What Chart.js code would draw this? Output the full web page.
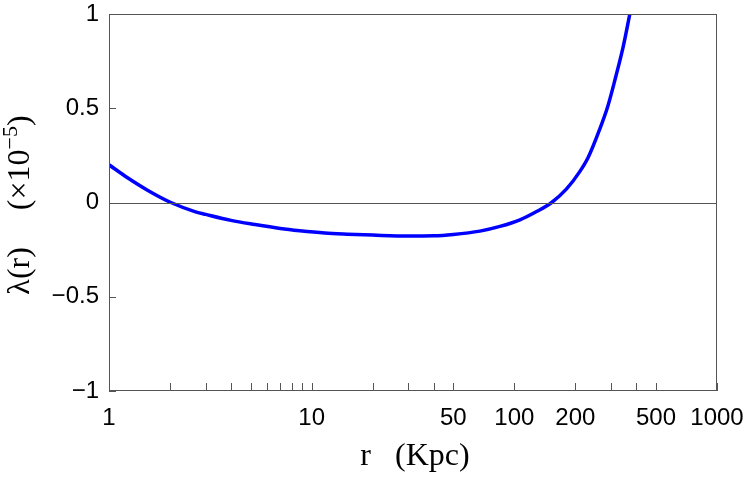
<!DOCTYPE html>
<html>
<head>
<meta charset="utf-8">
<script src="https://cdn.jsdelivr.net/npm/chart.js@4"></script>
<style>
  html, body { margin: 0; padding: 0; background: #fff; }
  #wrap { width: 747px; height: 477px; }
</style>
</head>
<body>
<div id="wrap"><canvas id="lambdaChart" width="747" height="477"></canvas></div>
<script>
// curve: r in Kpc, lambda in units of 1e-5
const rValues = [1, 1.24, 1.556, 2.02, 2.65, 3, 4, 5.24, 7, 8.73, 11.6, 15, 20, 30, 40, 50, 67.6, 84.9, 106.6, 128.8, 152.8, 181, 210.7, 231.6, 263, 290, 317, 345, 371.5];
const lambdaValues = [0.2, 0.13, 0.064, 0, -0.048, -0.063, -0.095, -0.117, -0.138, -0.15, -0.162, -0.168, -0.173, -0.178, -0.177, -0.17, -0.152, -0.127, -0.092, -0.048, 0, 0.072, 0.165, 0.24, 0.385, 0.515, 0.67, 0.83, 1.0];

// axis ticks
const xMajorTicks = [1, 10, 50, 100, 200, 500, 1000];
const xMinorTicks = [2, 3, 4, 5, 6, 7, 8, 9, 20, 30, 40, 300, 400];
const yTicks = [-1, -0.5, 0, 0.5, 1];
const yTickLabels = ['\u22121', '\u22120.5', '0', '0.5', '1'];

const frameColor = '#555555';
const serif = 'Liberation Serif, "Times New Roman", serif';

// frame, zero line and inward tick marks
const framePlugin = {
    id: 'framePlugin',
    afterDatasetsDraw(chart) {
        const ctx = chart.ctx;
        const area = chart.chartArea;
        const xs = chart.scales.x;
        const ys = chart.scales.y;
        ctx.save();
        ctx.strokeStyle = frameColor;
        ctx.lineWidth = 1;
        ctx.strokeRect(Math.round(area.left) + 0.5, Math.round(area.top) + 0.5,
            Math.round(area.right - area.left) - 1, Math.round(area.bottom - area.top) - 1);

        // zero line
        const y0 = Math.round(ys.getPixelForValue(0)) + 0.5;
        ctx.beginPath();
        ctx.moveTo(area.left, y0);
        ctx.lineTo(area.right, y0);
        ctx.stroke();

        // x ticks, bottom only, pointing up
        ctx.beginPath();
        xMajorTicks.concat(xMinorTicks).forEach(v => {
            const px = Math.round(xs.getPixelForValue(v)) + 0.5;
            ctx.moveTo(px, area.bottom);
            ctx.lineTo(px, area.bottom - 8);
        });
        // y ticks, left only, pointing right
        yTicks.forEach(v => {
            const py = Math.round(ys.getPixelForValue(v)) + 0.5;
            ctx.moveTo(area.left, py);
            ctx.lineTo(area.left + 7, py);
        });
        ctx.stroke();
        ctx.restore();
    }
};

// axis titles, y one has a raised exponent
const titlePlugin = {
    id: 'titlePlugin',
    afterDraw(chart) {
        const ctx = chart.ctx;
        const area = chart.chartArea;
        ctx.save();
        ctx.fillStyle = '#000';
        ctx.textBaseline = 'alphabetic';

        // x title
        ctx.font = '32px ' + serif;
        ctx.textAlign = 'center';
        ctx.fillText('r   (Kpc)', (area.left + area.right) / 2 + 2, 465);

        // y title, rotated
        const big = '32px ' + serif;
        const small = '22px ' + serif;
        const parts = [
            { t: '\u03bb(r)', f: big, dy: 0 },
            { gap: 37 },
            { t: '(\u00d710', f: big, dy: 0 },
            { t: '\u22125', f: small, dy: -12 },
            { t: ')', f: big, dy: 0 }
        ];
        let total = 0;
        parts.forEach(p => {
            if (p.gap) { p.w = p.gap; } else { ctx.font = p.f; p.w = ctx.measureText(p.t).width; }
            total += p.w;
        });
        ctx.translate(29, 205);
        ctx.rotate(-Math.PI / 2);
        ctx.textAlign = 'left';
        let pos = -total / 2;
        parts.forEach(p => {
            if (!p.gap) {
                ctx.font = p.f;
                ctx.fillText(p.t, pos, p.dy);
            }
            pos += p.w;
        });
        ctx.restore();
    }
};

const ctx = document.getElementById('lambdaChart').getContext('2d');
new Chart(ctx, {
    type: 'line',
    data: {
        datasets: [{
            data: rValues.map((r, i) => ({ x: r, y: lambdaValues[i] })),
            borderColor: '#0000ff',
            borderWidth: 3.5,
            pointRadius: 0,
            cubicInterpolationMode: 'monotone',
            fill: false
        }]
    },
    options: {
        responsive: false,
        animation: false,
        layout: { padding: { top: 14, right: 30, left: 0, bottom: 0 } },
        plugins: {
            legend: { display: false },
            tooltip: { enabled: false }
        },
        scales: {
            x: {
                type: 'logarithmic',
                min: 1,
                max: 1000,
                afterBuildTicks(scale) {
                    scale.ticks = xMajorTicks.map(v => ({ value: v }));
                },
                afterFit(scale) {
                    scale.height = 86;
                    scale.paddingLeft = 0;
                    scale.paddingRight = 0;
                },
                grid: { display: false },
                border: { display: false },
                ticks: {
                    autoSkip: false,
                    maxRotation: 0,
                    padding: 5,
                    color: '#000',
                    font: { family: 'Liberation Sans, Arial, sans-serif', size: 24 },
                    callback: (v) => String(v)
                }
            },
            y: {
                type: 'linear',
                min: -1,
                max: 1,
                afterBuildTicks(scale) {
                    scale.ticks = yTicks.map(v => ({ value: v }));
                },
                afterFit(scale) {
                    scale.width = 109;
                    scale.paddingTop = 0;
                    scale.paddingBottom = 0;
                },
                grid: { display: false },
                border: { display: false },
                ticks: {
                    autoSkip: false,
                    padding: 2,
                    color: '#000',
                    font: { family: 'Liberation Sans, Arial, sans-serif', size: 24 },
                    callback: (v) => yTickLabels[yTicks.indexOf(v)]
                }
            }
        }
    },
    plugins: [framePlugin, titlePlugin]
});
</script>
</body>
</html>
